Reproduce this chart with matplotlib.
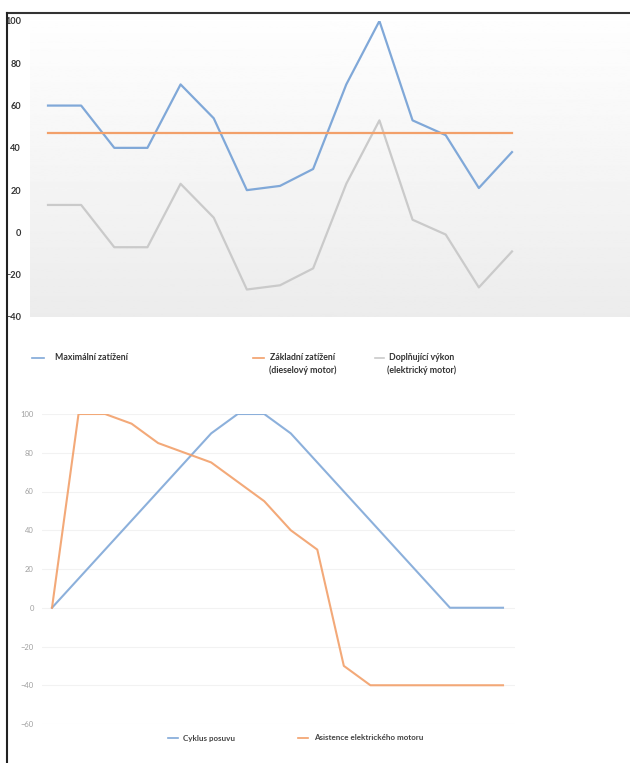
import matplotlib

matplotlib.use("Agg")
import matplotlib.pyplot as plt
import numpy as np
from matplotlib.lines import Line2D

plt.rcParams["font.family"] = ["Lato", "DejaVu Sans"]

# top chart: load profile over the cycle
max_load = [60, 60, 40, 40, 70, 54, 20, 22, 30, 70, 100, 53, 46, 21, 38]
base_load = [47] * 15
extra_power = [13, 13, -7, -7, 23, 7, -27, -25, -17, 23, 53, 6, -1, -26, -9]
top_labels = ["Maximální zatížení", "Základní zatížení\n(dieselový motor)",
              "Doplňující výkon\n(elektrický motor)"]
top_ticks = [-40, -20, 0, 20, 40, 60, 80, 100]

# bottom chart: feed cycle vs. electric assist
feed_cycle = [0, 15, 30, 45, 60, 75, 90, 100, 100, 90, 75, 60, 45, 30, 15, 0, 0, 0]
motor_assist = [0, 100, 100, 95, 85, 80, 75, 65, 55, 40, 30, -30, -40, -40, -40, -40, -40, -40]
bottom_labels = ["Cyklus posuvu", "Asistence elektrického motoru"]
bottom_ticks = [-60, -40, -20, 0, 20, 40, 60, 80, 100]

BLUE = "#80a8d8"
ORANGE = "#f2a06a"
GRAY = "#cacaca"

W, H = 630, 763
fig = plt.figure(figsize=(W / 100, H / 100), dpi=100)


def px_axes(x0, y0, x1, y1):
    return fig.add_axes([x0 / W, 1 - y1 / H, (x1 - x0) / W, (y1 - y0) / H])


# --- top chart ---
ax = px_axes(30, 21, 630, 317)
grad = np.linspace(0.995, 0.925, 256).reshape(-1, 1)
ax.imshow(grad, cmap="gray", vmin=0, vmax=1, aspect="auto",
          extent=[0, 1, 0, 1], transform=ax.transAxes, zorder=0)
x = np.arange(len(max_load))
ax.plot(x, max_load, color=BLUE, lw=1.6, zorder=3)
ax.plot(x, base_load, color=ORANGE, lw=1.6, zorder=3)
ax.plot(x, extra_power, color=GRAY, lw=1.6, zorder=2)
ax.set_xlim(-18 / 33.14, 14 + 118 / 33.14)
ax.set_ylim(-40, 100)
ax.set_yticks(top_ticks)
ax.set_xticks([])
ax.tick_params(axis="y", length=0, pad=6.5, labelsize=6.6, labelcolor="#333333")
for lab in ax.get_yticklabels():
    lab.set_fontweight("bold")
for s in ax.spines.values():
    s.set_visible(False)

# legend for top chart
leg_y = 1 - 358 / H
for (lx0, lx1, tx, ha), color, label in zip(
        [(32, 44, 55, "left"), (253, 264, 303, "center"), (375, 384, 422, "center")],
        [BLUE, ORANGE, GRAY], top_labels):
    fig.add_artist(Line2D([lx0 / W, lx1 / W], [leg_y, leg_y], color=color, lw=1.2))
    fig.text(tx / W, leg_y + 0.007, label, ha=ha, va="top", fontsize=6.3,
             fontweight="bold", color="#333333", linespacing=1.5)

# --- bottom chart ---
ax2 = px_axes(42, 414, 515, 724)
x2 = np.arange(len(feed_cycle))
ax2.plot(x2, feed_cycle, color=BLUE, lw=1.5, alpha=0.9, zorder=3)
ax2.plot(x2, motor_assist, color=ORANGE, lw=1.5, alpha=0.9, zorder=3)
ax2.set_xlim(-10 / 26.53, 17 + 12 / 26.53)
ax2.set_ylim(-60, 100)
ax2.set_yticks(bottom_ticks)
ax2.set_xticks([])
ax2.grid(axis="y", color="#f2f2f2", lw=0.8)
ax2.set_axisbelow(True)
ax2.tick_params(axis="y", length=0, pad=6, labelsize=5.5, labelcolor="#a0a0a0")
for s in ax2.spines.values():
    s.set_visible(False)

leg2_y = 1 - 738 / H
for (lx0, lx1, tx), color, label in zip([(168, 178, 183), (298, 308, 314)],
                                         [BLUE, ORANGE], bottom_labels):
    fig.add_artist(Line2D([lx0 / W, lx1 / W], [leg2_y, leg2_y], color=color, lw=1.2))
    fig.text(tx / W, leg2_y, label, ha="left", va="center", fontsize=5.8,
             fontweight="bold", color="#444444")

# frame along the top and left edge
fig.add_artist(Line2D([7 / W, 1], [1 - 13 / H, 1 - 13 / H], color="#333333", lw=1.5))
fig.add_artist(Line2D([7 / W, 7 / W], [0, 1 - 13 / H], color="#222222", lw=1.5))

fig.savefig("out.png", dpi=100)
